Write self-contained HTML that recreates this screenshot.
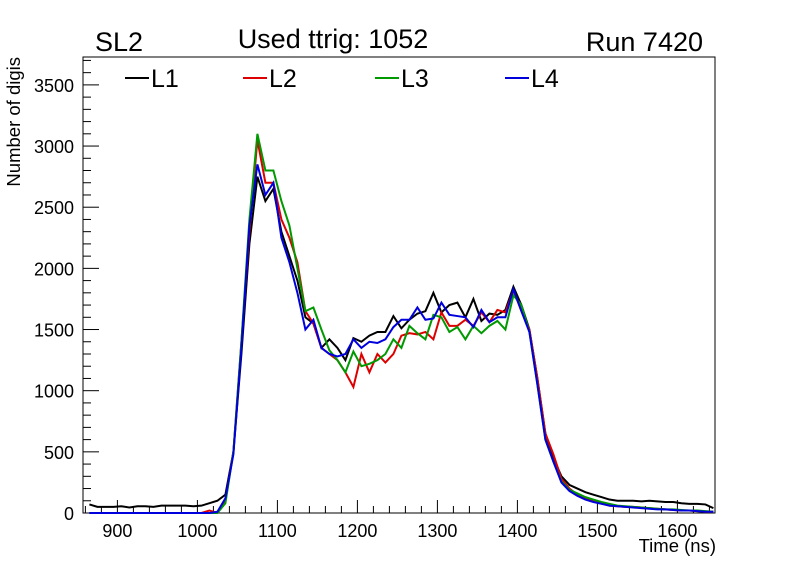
<!DOCTYPE html>
<html><head><meta charset="utf-8"><style>
body{margin:0;background:#fff;width:796px;height:572px;overflow:hidden;font-family:"Liberation Sans",sans-serif}
svg text{font-family:"Liberation Sans",sans-serif}
</style></head><body>
<svg id="c" width="796" height="572"></svg>
<script>
const times=[865,875,885,895,905,915,925,935,945,955,965,975,985,995,1005,1015,1025,1035,1045,1055,1065,1075,1085,1095,1105,1115,1125,1135,1145,1155,1165,1175,1185,1195,1205,1215,1225,1235,1245,1255,1265,1275,1285,1295,1305,1315,1325,1335,1345,1355,1365,1375,1385,1395,1405,1415,1425,1435,1445,1455,1465,1475,1485,1495,1505,1515,1525,1535,1545,1555,1565,1575,1585,1595,1605,1615,1625,1635,1645];
const l1=[70,50,50,50,55,45,55,55,50,60,60,60,60,55,60,80,100,150,500,1300,2200,2750,2550,2650,2300,2100,1900,1600,1550,1350,1420,1350,1250,1430,1400,1450,1480,1480,1610,1510,1580,1630,1650,1800,1640,1700,1720,1600,1750,1570,1630,1620,1660,1850,1700,1500,1100,650,450,300,230,200,170,150,130,110,100,100,100,95,100,95,90,90,80,75,75,70,40];
const l2=[0,0,0,0,0,0,0,0,0,0,0,0,0,0,0,20,0,100,500,1400,2300,3050,2700,2700,2400,2250,2050,1650,1550,1350,1300,1250,1150,1030,1300,1150,1300,1230,1300,1450,1470,1460,1480,1420,1640,1530,1530,1580,1530,1640,1560,1660,1640,1820,1650,1500,1100,650,480,280,200,150,120,100,80,60,55,50,50,45,40,35,30,25,20,20,15,10,10];
const l3=[0,0,0,0,0,0,0,0,0,0,0,0,0,0,0,0,0,80,500,1400,2400,3100,2800,2800,2550,2350,2000,1650,1680,1500,1330,1250,1150,1320,1200,1220,1250,1300,1420,1350,1530,1470,1420,1620,1600,1480,1520,1420,1530,1470,1530,1570,1500,1780,1700,1480,1050,600,420,260,190,160,130,110,90,75,60,55,50,45,40,35,30,30,25,20,20,15,10];
const l4=[0,0,0,0,0,0,0,0,0,0,0,0,0,0,0,0,10,120,480,1350,2350,2850,2600,2700,2250,2050,1800,1500,1580,1350,1300,1280,1300,1420,1350,1400,1390,1420,1520,1580,1580,1680,1580,1590,1720,1620,1610,1600,1520,1660,1560,1600,1600,1830,1650,1480,1050,600,420,250,180,140,110,90,75,60,55,50,45,40,35,30,30,25,20,20,15,10,10];
const xTicks=[900,1000,1100,1200,1300,1400,1500,1600];
const yTicks=[0,500,1000,1500,2000,2500,3000,3500];
const series=[{n:'L1',d:l1,c:'#000000'},{n:'L2',d:l2,c:'#dd0000'},{n:'L3',d:l3,c:'#009900'},{n:'L4',d:l4,c:'#0000dd'}];
const X0=83,X1=715,Y0=513,Y1=57,xmin=857,xmax=1647,ymax=3728;
const sx=t=>X0+(t-xmin)*(X1-X0)/(xmax-xmin);
const sy=v=>Y0-v*(Y0-Y1)/ymax;
const svg=document.getElementById('c');const NS='http://www.w3.org/2000/svg';
function mk(tag,attrs,parent){const e=document.createElementNS(NS,tag);for(const k in attrs)e.setAttribute(k,attrs[k]);(parent||svg).appendChild(e);return e;}
const frame=mk('rect',{x:X0,y:Y1,width:X1-X0,height:Y0-Y1,fill:'none',stroke:'#000','stroke-width':1});


for(let t=860;t<=1640;t+=20){const major=t%100===0;const l=mk('line',{x1:sx(t),x2:sx(t),y1:Y0,y2:Y0-(major?13:7),stroke:'#000'});

}
xTicks.forEach(t=>{const e=mk('text',{x:sx(t),y:Y0+24,'text-anchor':'middle','font-size':18});e.textContent=t;

});
for(let v=0;v<=3700;v+=100){const major=v%500===0;const l=mk('line',{x1:X0,x2:X0+(major?16:8),y1:sy(v),y2:sy(v),stroke:'#000'});

}
yTicks.forEach(v=>{const e=mk('text',{x:X0-9,y:sy(v)+7,'text-anchor':'end','font-size':18});e.textContent=v;

});
series.forEach(s=>{const pts=times.map((t,i)=>sx(t)+','+sy(s.d[i])).join(' ');
const p=mk('polyline',{points:pts,fill:'none',stroke:s.c,'stroke-width':2});

});
const lx=[125,243,375,505];
series.forEach((s,i)=>{const g=mk('g',{});


mk('line',{x1:lx[i],x2:lx[i]+24,y1:78,y2:78,stroke:s.c,'stroke-width':2},g);
const t=mk('text',{x:lx[i]+26,y:87,'font-size':25},g);t.textContent=s.n;});
function txt(x,y,s,anchor,size,name,rot){const e=mk('text',{x:x,y:y,'text-anchor':anchor,'font-size':size});if(rot)e.setAttribute('transform',rot);e.textContent=s;

}
txt(95,51,'SL2','start',27,'title-sl');
txt(333,48,'Used ttrig: 1052','middle',27,'title-ttrig');
txt(703,51,'Run 7420','end',27,'title-run');
txt(716,552,'Time (ns)','end',18.5,'x-axis-title');
txt(20,57,'Number of digis','end',18.5,'y-axis-title','rotate(-90 20 57)');
</script>
</body></html>
